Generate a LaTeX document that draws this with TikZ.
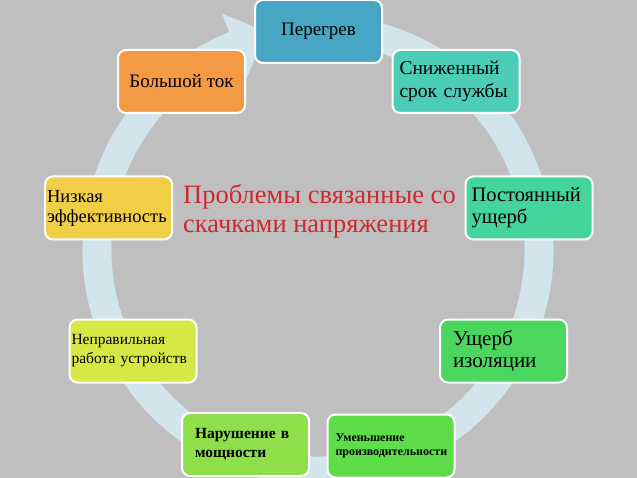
\documentclass[tikz,border=0pt]{standalone}
\usepackage{fontspec}
\setmainfont{Liberation Serif}
\usetikzlibrary{arrows.meta,bending}
\definecolor{bg}{HTML}{BFBFBF}
\definecolor{ringc}{HTML}{D2E4EC}
\definecolor{titlered}{HTML}{CC2A30}
\definecolor{c1}{HTML}{46A6C4}
\definecolor{c2}{HTML}{4CCDB8}
\definecolor{c3}{HTML}{45D49B}
\definecolor{c4}{HTML}{4BD65F}
\definecolor{c5}{HTML}{5DDE48}
\definecolor{c6}{HTML}{8EDF4A}
\definecolor{c7}{HTML}{D5E845}
\definecolor{c8}{HTML}{F0CF47}
\definecolor{c9}{HTML}{F49A45}
\begin{document}
\begin{tikzpicture}[x=1pt,y=-1pt,
	stage node/.style = {rectangle, rounded corners=8pt, draw=white, line width=2pt,
		minimum width=127pt, minimum height=63pt, inner ysep=0pt, align=left, text=black}]
	\useasboundingbox (0,0) rectangle (637,478);
	\fill[bg] (0,0) rectangle (637,478);
	\coordinate (o) at (318,250);
	\draw[ringc, line width=29pt, -{Triangle[width=66pt,length=36pt,bend]}]
		(o) ++(80:221pt) arc[start angle=80, end angle=-257, radius=221pt];

	\node[stage node,fill=c1,font=\fontsize{19}{23}\selectfont] (heat) at (318.5,31.5) {Перегрев};
	\node[stage node,fill=c2,font=\fontsize{19.5}{23}\selectfont,inner xsep=7pt,text width=113pt] (life) at (456,81.5) {Сниженный\\срок службы};
	\node[stage node,fill=c3,font=\fontsize{20.5}{22}\selectfont,inner xsep=6pt,text width=115pt] (damage) at (529,208) {Постоянный\\ущерб};
	\node[stage node,fill=c4,font=\fontsize{21}{22}\selectfont,inner xsep=13pt,text width=101pt] (insul) at (503.5,351) {Ущерб\\изоляции};
	\node[stage node,fill=c5,font=\bfseries\fontsize{12}{14}\selectfont,inner xsep=8pt,text width=111pt] (perf) at (391,446) {Уменьшение\\производительности};
	\node[stage node,fill=c6,font=\bfseries\fontsize{15.5}{19}\selectfont,inner xsep=13pt,text width=101pt] (power) at (245.5,444.5) {Нарушение в\\мощности};
	\node[stage node,fill=c7,font=\fontsize{15.5}{19}\selectfont,inner xsep=2pt,text width=123pt] (fault) at (133,351) {Неправильная\\работа устройств};
	\node[stage node,fill=c8,font=\fontsize{18.5}{20}\selectfont,inner xsep=2pt,text width=123pt] (eff) at (108.5,208) {Низкая\\эффективность};
	\node[stage node,fill=c9,font=\fontsize{19}{23}\selectfont] (current) at (181.5,81.5) {Большой ток};

	\node[anchor=west,inner sep=0pt,align=left,text=titlered,font=\fontsize{26.5}{29}\selectfont] (title) at (183,211) {Проблемы связанные со\\скачками напряжения};
\end{tikzpicture}
\end{document}
